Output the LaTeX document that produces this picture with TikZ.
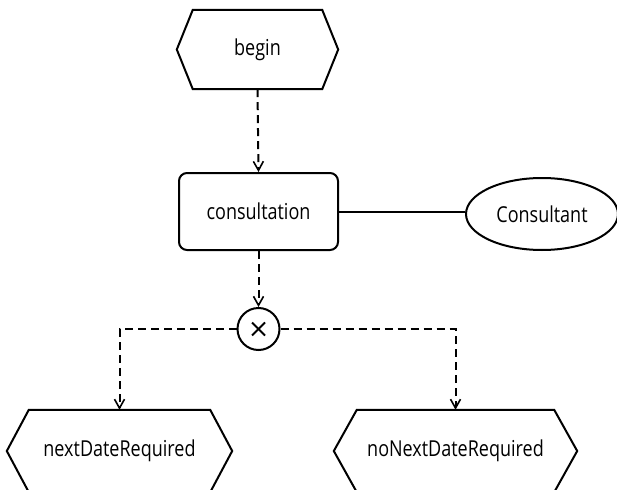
\documentclass[tikz,border=0pt]{standalone}
\usepackage{fontspec}
\usepackage{graphicx}
\setmainfont{Open Sans}
\newcommand{\tallt}[1]{\scalebox{1}[1.22]{#1}}
\usetikzlibrary{arrows.meta,shapes.geometric,calc}
\tikzset{
  shapeline/.style={line width=2pt, line join=miter},
  hexbox/.style={inner sep=0pt, font=\fontsize{18}{21}\selectfont},
  taskbox/.style={draw, line width=2pt, rounded corners=8pt, inner sep=0pt, font=\fontsize{18}{21}\selectfont},
  rolebox/.style={draw, ellipse, line width=2pt, inner sep=0pt, font=\fontsize{18}{21}\selectfont},
  xorbox/.style={draw, circle, line width=2pt, inner sep=0pt, minimum size=42pt},
  flow/.style={line width=2pt, dash pattern=on 8pt off 5pt, -{Straight Barb[length=9pt,width=10pt,line width=1.6pt]}},
  assoc/.style={line width=2pt}
}
\begin{document}
\begin{tikzpicture}[x=1pt,y=-1pt]
\useasboundingbox (0,0) rectangle (617,489);
\clip (0,0) rectangle (617,489);
\fill[white] (0,0) rectangle (617,489);

% begin event
\node[hexbox, minimum width=129pt, minimum height=79pt] (begin) at (257.5,49.5) {\tallt{begin}};
\draw[shapeline] (begin.north west) -- (begin.north east) -- ([xshift=16pt]begin.east) -- (begin.south east) -- (begin.south west) -- ([xshift=-16pt]begin.west) -- cycle;

% consultation function
\node[taskbox, minimum width=159pt, minimum height=77pt] (cons) at (258.5,211.5) {\tallt{consultation}};

% Consultant role
\node[rolebox, minimum width=152pt, minimum height=72pt] (role) at (542,214) {\tallt{Consultant}};

% XOR connector
\node[xorbox] (xor) at (258.5,329) {};
\draw[line width=2pt] ([shift={(-6.5pt,-6.5pt)}]xor.center) -- ([shift={(6.5pt,6.5pt)}]xor.center);
\draw[line width=2pt] ([shift={(-6.5pt,6.5pt)}]xor.center) -- ([shift={(6.5pt,-6.5pt)}]xor.center);

% bottom events
\node[hexbox, minimum width=181pt, minimum height=82pt] (next) at (119.5,451) {\tallt{nextDateRequired}};
\draw[shapeline] (next.north west) -- (next.north east) -- ([xshift=22pt]next.east) -- (next.south east) -- (next.south west) -- ([xshift=-22pt]next.west) -- cycle;

\node[hexbox, minimum width=197pt, minimum height=82pt] (nonext) at (455.5,451) {\tallt{noNextDateRequired}};
\draw[shapeline] (nonext.north west) -- (nonext.north east) -- ([xshift=23pt]nonext.east) -- (nonext.south east) -- (nonext.south west) -- ([xshift=-23pt]nonext.west) -- cycle;

% connectors
\draw[flow] (begin.south) -- (cons.north);
\draw[flow] (cons.south) -- (xor.north);
\draw[flow] (xor.west) -| (next.north);
\draw[flow] (xor.east) -| (nonext.north);
\draw[assoc] (cons.east) -- (cons.east -| role.west);
\end{tikzpicture}
\end{document}
